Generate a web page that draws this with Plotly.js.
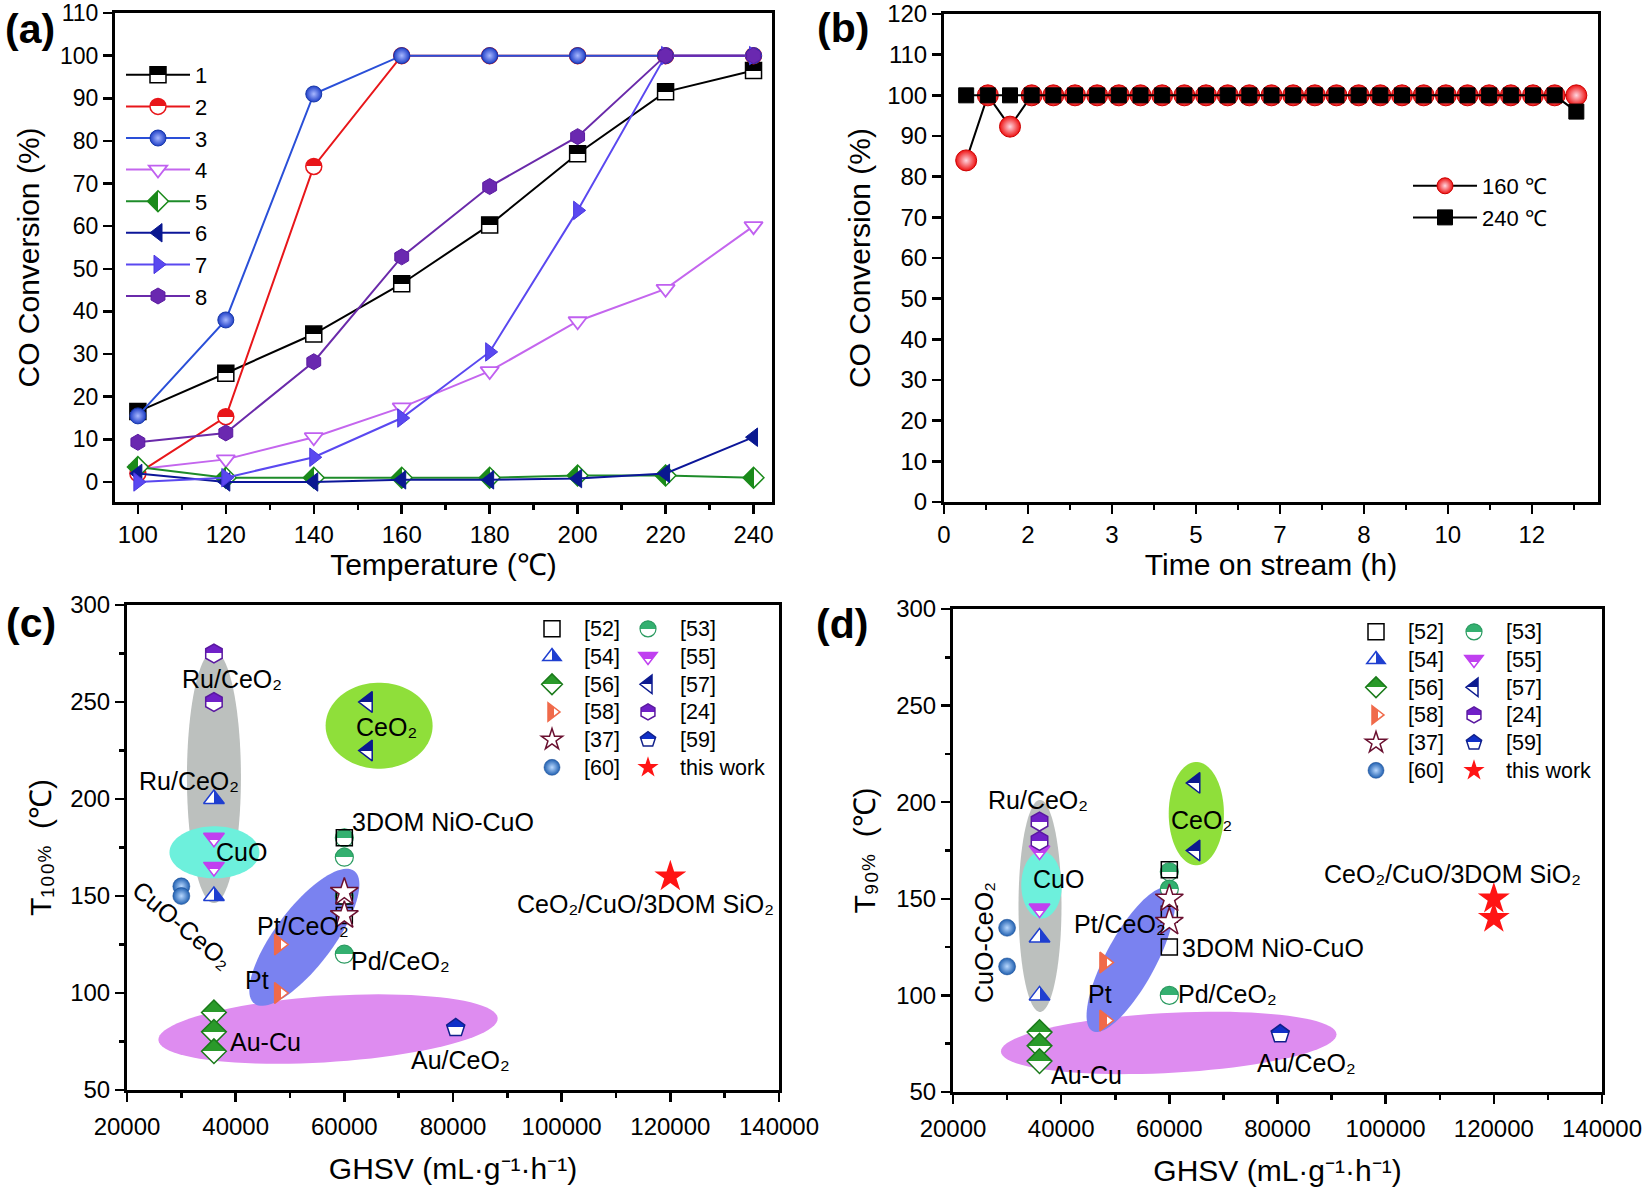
<!DOCTYPE html>
<html>
<head>
<meta charset="utf-8">
<script src="https://cdn.plot.ly/plotly-3.0.1.min.js"></script>
<style>html,body{margin:0;padding:0;background:#fff;}</style>
</head>
<body>
<div id="chart" style="width:1650px;height:1192px;"></div>
<script>
// ---------------- Panel (a): CO conversion vs temperature ----------------
const temperatures = [100, 120, 140, 160, 180, 200, 220, 240];
const sampleNames = ['1', '2', '3', '4', '5', '6', '7', '8'];
const conv1 = [16.5, 25.5, 34.7, 46.5, 60.3, 77.0, 91.5, 96.5];
const conv2 = [2.0, 15.3, 74.0, 100, 100, 100, 100, 100];
const conv3 = [15.5, 38.0, 91.0, 100, 100, 100, 100, 100];
const conv4 = [3.0, 5.3, 10.5, 17.5, 26.0, 37.7, 45.3, 60.0];
const conv5 = [3.5, 1.0, 1.0, 1.0, 1.0, 1.5, 1.5, 1.0];
const conv6 = [2.0, 0.0, 0.0, 0.5, 0.5, 0.8, 2.0, 10.5];
const conv7 = [0.0, 1.0, 5.8, 15.0, 30.5, 63.7, 100, 100];
const conv8 = [9.3, 11.5, 28.2, 52.8, 69.3, 81.0, 100, 100];

// ---------------- Panel (b): stability test ----------------
const streamHours = [0.44, 0.87, 1.31, 1.74, 2.17, 2.60, 3.04, 3.47, 3.90, 4.33, 4.77, 5.20, 5.63, 6.06, 6.50,
  6.93, 7.36, 7.79, 8.23, 8.66, 9.09, 9.52, 9.96, 10.39, 10.82, 11.25, 11.69, 12.12, 12.55];
const conv160 = [84, 100, 92.3, 100, 100, 100, 100, 100, 100, 100, 100, 100, 100, 100, 100,
  100, 100, 100, 100, 100, 100, 100, 100, 100, 100, 100, 100, 100, 100];
const conv240 = [100, 100, 100, 100, 100, 100, 100, 100, 100, 100, 100, 100, 100, 100, 100,
  100, 100, 100, 100, 100, 100, 100, 100, 100, 100, 100, 100, 100, 96];
const streamNames = ['160 ℃', '240 ℃'];
const timeTickLabels = ['0', '2', '3', '5', '7', '8', '10', '12'];

// ---------------- Panels (c), (d): literature comparison ----------------
const refLabels = ['[52]', '[53]', '[54]', '[55]', '[56]', '[57]', '[58]', '[24]', '[37]', '[59]', '[60]', 'this work'];
// T100% vs GHSV
const t100GHSV = [
  [60000, 60000, 60000], [60000, 60000, 60000, 60000], [36000, 36000], [36000, 36000],
  [36000, 36000, 36000], [64300, 64300], [48000, 48000], [36000, 36000],
  [60000, 60000], [80500], [30000, 30000], [120000]];
const t100Temp = [
  [180, 150, 140], [180, 170, 150, 120], [200, 150], [180, 165],
  [90, 80, 70], [250, 225], [125, 100], [275, 250],
  [152, 140], [82], [155, 150], [160]];
// T90% vs GHSV
const t90GHSV = [
  [60000, 60000, 60000], [60000, 60000, 60000], [36000, 36000], [36000, 36000],
  [36000, 36000, 36000], [64800, 64800], [48000, 48000], [36000, 36000],
  [60000, 60000], [80500], [30000, 30000], [120000, 120000]];
const t90Temp = [
  [165, 142, 125], [164, 155, 100], [130, 100], [175, 145],
  [81, 74, 66], [210, 175], [117, 87], [190, 180],
  [150, 138], [80], [135, 115], [150, 140]];

// group labels written on the plots
const cLabelText = ['Ru/CeO₂', 'Ru/CeO₂', 'CuO', 'CeO₂', '3DOM NiO-CuO', 'CuO-CeO₂',
  'Pt/CeO₂', 'Pd/CeO₂', 'Pt', 'Au-Cu', 'Au/CeO₂', 'CeO₂/CuO/3DOM SiO₂'];
const cLabelX = [39400, 31350, 41050, 67800, 78100, 30220, 52300, 70370, 43870, 45500, 81400, 115400];
const cLabelY = [262, 209.5, 172.9, 237, 188.4, 135, 134.5, 116.5, 106.5, 74.8, 65.5, 146];
const cLabelAngle = [0, 0, 0, 0, 0, 40, 0, 0, 0, 0, 0, 0];
const dLabelText = ['Ru/CeO₂', 'CuO', 'CeO₂', 'CuO-CeO₂', 'Pt/CeO₂', '3DOM NiO-CuO',
  'Pt', 'Pd/CeO₂', 'Au-Cu', 'Au/CeO₂', 'CeO₂/CuO/3DOM SiO₂'];
const dLabelX = [35730, 39440, 65890, 25610, 50860, 79170, 47100, 70750, 44700, 85430, 112400];
const dLabelY = [201, 160.2, 191, 127.3, 137, 124.6, 100.6, 100.5, 59, 65, 163];
const dLabelAngle = [0, 0, 0, -90, 0, 0, 0, 0, 0, 0, 0];

// ---------------- styles ----------------
const FONT = 'Liberation Sans, Arial, sans-serif';
const W = 1650, H = 1192;
const dom = {
  a: {x: [115 / W, 772 / W], y: [1 - 502 / H, 1 - 13 / H]},
  b: {x: [944 / W, 1598 / W], y: [1 - 502 / H, 1 - 14 / H]},
  c: {x: [127 / W, 779 / W], y: [1 - 1090 / H, 1 - 605 / H]},
  d: {x: [953 / W, 1602 / W], y: [1 - 1092 / H, 1 - 609 / H]}
};
const ranges = {
  ax: [94.8, 244.2], ay: [-4.7, 110],
  bx: [0, 12.98], by: [0, 120],
  cx: [20000, 140000], cy: [50, 300]
};

const aStyles = [
  {line: '#000000', marker: {symbol: 'square', color: '#000000', gradient: {type: 'vertical', color: '#ffffff'}, line: {color: '#000', width: 1.5}}},
  {line: '#e8161a', marker: {symbol: 'circle', color: '#e8161a', gradient: {type: 'vertical', color: '#ffffff'}, line: {color: '#e8161a', width: 1.5}}},
  {line: '#2a4fd8', marker: {symbol: 'circle', color: '#2040c8', gradient: {type: 'radial', color: '#a8b8ff'}, line: {color: '#1838a8', width: 1}}},
  {line: '#c466ee', marker: {symbol: 'triangle-down', color: '#ffffff', line: {color: '#c060f0', width: 1.8}}},
  {line: '#1e8c2a', marker: {symbol: 'diamond', color: '#1a8a1a', gradient: {type: 'horizontal', color: '#ffffff'}, line: {color: '#1a8a1a', width: 1.5}}},
  {line: '#0c1699', marker: {symbol: 'triangle-left', color: '#0a1890', line: {color: '#0a1890', width: 1}}},
  {line: '#5a48f0', marker: {symbol: 'triangle-right', color: '#5a48f0', line: {color: '#4a38e0', width: 1}}},
  {line: '#6a2aaa', marker: {symbol: 'hexagon', color: '#6a28b0', line: {color: '#5a1aa0', width: 1}}}
];

const refStyles = [
  {symbol: 'square-open', color: '#000000', line: {color: '#000000', width: 1.5}, size: 16},
  {symbol: 'circle', color: '#34b070', gradient: {type: 'vertical', color: '#ffffff'}, line: {color: '#2a9a60', width: 1.2}, size: 18},
  {symbol: 'triangle-up', color: '#ffffff', gradient: {type: 'horizontal', color: '#1f3fd0'}, line: {color: '#1f3fd0', width: 1.5}, size: 18},
  {symbol: 'triangle-down', color: '#c040f0', gradient: {type: 'vertical', color: '#ffffff'}, line: {color: '#c040f0', width: 1.5}, size: 18},
  {symbol: 'diamond', color: '#2a9a2a', gradient: {type: 'vertical', color: '#ffffff'}, line: {color: '#1a7a1a', width: 1.5}, size: 19},
  {symbol: 'triangle-left', color: '#0c1a90', gradient: {type: 'vertical', color: '#ffffff'}, line: {color: '#0c1a90', width: 1.5}, size: 18},
  {symbol: 'triangle-right', color: '#f06a4a', gradient: {type: 'horizontal', color: '#ffffff'}, line: {color: '#f06a4a', width: 1.5}, size: 18},
  {symbol: 'hexagon', color: '#7020c8', gradient: {type: 'vertical', color: '#ffffff'}, line: {color: '#5a18a0', width: 1.5}, size: 19},
  {symbol: 'star', color: '#ffffff', line: {color: '#6a1030', width: 1.5}, size: 21},
  {symbol: 'pentagon', color: '#1030c8', gradient: {type: 'vertical', color: '#ffffff'}, line: {color: '#10208a', width: 1.5}, size: 19},
  {symbol: 'circle', color: '#1f5fb0', gradient: {type: 'radial', color: '#b8d8ff'}, line: {color: '#184a90', width: 0.5}, size: 17},
  {symbol: 'star', color: '#ff1414', line: {color: '#ff1414', width: 0}, size: 24}
];

// ellipses: centre in data units, semi-axes a (along angle) and b in pixels
const cEllipses = [
  {cx: 57000, cy: 81.4, a: 170, b: 33, ang: 3.7, color: '#de8cf0'},
  {cx: 52640, cy: 128.7, a: 83, b: 29, ang: 53, color: '#7a82f0'},
  {cx: 36000, cy: 211.3, a: 27, b: 126, ang: 0, color: '#bcc0be'},
  {cx: 36100, cy: 172.5, a: 45, b: 26, ang: 0, color: '#6df0dc'},
  {cx: 66400, cy: 237.8, a: 53.5, b: 43, ang: 0, color: '#8fdf3a'}
];
const dEllipses = [
  {cx: 59886, cy: 75.4, a: 168, b: 30, ang: 3.0, color: '#de8cf0'},
  {cx: 52880, cy: 118.5, a: 81, b: 25, ang: 61.7, color: '#7a82f0'},
  {cx: 36087, cy: 146.3, a: 21.5, b: 106, ang: 0, color: '#bcc0be'},
  {cx: 36380, cy: 157.2, a: 20.3, b: 33.6, ang: 0, color: '#6df0dc'},
  {cx: 64990, cy: 194.1, a: 27.6, b: 51.6, ang: 0, color: '#8fdf3a'}
];

// ---------------- traces ----------------
const traces = [];
const aSeries = [conv1, conv2, conv3, conv4, conv5, conv6, conv7, conv8];
aSeries.forEach((ys, i) => {
  const st = aStyles[i];
  traces.push({
    type: 'scatter', mode: 'lines+markers', x: temperatures, y: ys, name: sampleNames[i],
    xaxis: 'x', yaxis: 'y', legend: 'legend', cliponaxis: false,
    line: {color: st.line, width: 2},
    marker: Object.assign({size: 16}, st.marker)
  });
});

traces.push({
  type: 'scatter', mode: 'lines+markers', x: streamHours, y: conv160, name: streamNames[0],
  xaxis: 'x2', yaxis: 'y2', legend: 'legend2', cliponaxis: false,
  line: {color: '#000', width: 2},
  marker: {symbol: 'circle', size: 21, color: '#ee1010', gradient: {type: 'radial', color: '#ffd6e0'}, line: {color: '#cc0000', width: 1}}
});
traces.push({
  type: 'scatter', mode: 'lines+markers', x: streamHours, y: conv240, name: streamNames[1],
  xaxis: 'x2', yaxis: 'y2', legend: 'legend2', cliponaxis: false,
  line: {color: '#000', width: 2},
  marker: {symbol: 'square', size: 15, color: '#000', line: {color: '#000', width: 1}}
});

const drawOrder = [1, 0, 3, 2, 4, 5, 6, 7, 8, 9, 10, 11];
function addRefTraces(X, Y, xa, ya, legLeft, legRight) {
  drawOrder.forEach(i => {
    const st = refStyles[i];
    const mk = {symbol: st.symbol, size: st.size, color: st.color, line: st.line};
    if (st.gradient) mk.gradient = st.gradient;
    traces.push({
      type: 'scatter', mode: 'markers', x: X[i], y: Y[i],
      name: '<span style="font-size:21.5px">' + refLabels[i] + '</span>',
      xaxis: xa, yaxis: ya, legend: (i % 2 === 0) ? legLeft : legRight, cliponaxis: false,
      marker: mk
    });
  });
}
addRefTraces(t100GHSV, t100Temp, 'x3', 'y3', 'legend3', 'legend4');
addRefTraces(t90GHSV, t90Temp, 'x4', 'y4', 'legend5', 'legend6');

// ---------------- shapes ----------------
function ellipsePath(s, xr, yr, wPx, hPx) {
  const kx = (xr[1] - xr[0]) / wPx, ky = (yr[1] - yr[0]) / hPx;
  const phi = s.ang * Math.PI / 180;
  let d = '';
  for (let i = 0; i <= 90; i++) {
    const t = i / 90 * 2 * Math.PI;
    const dx = s.a * Math.cos(t) * Math.cos(phi) - s.b * Math.sin(t) * Math.sin(phi);
    const dy = s.a * Math.cos(t) * Math.sin(phi) + s.b * Math.sin(t) * Math.cos(phi);
    d += (i ? 'L' : 'M') + (s.cx + dx * kx).toFixed(2) + ',' + (s.cy + dy * ky).toFixed(4);
  }
  return d + 'Z';
}
const shapes = [];
function addEllipses(list, xref, yref, d) {
  const wPx = (d.x[1] - d.x[0]) * W, hPx = (d.y[1] - d.y[0]) * H;
  list.forEach(s => shapes.push({
    type: 'path', xref: xref, yref: yref, layer: 'below',
    path: ellipsePath(s, ranges.cx, ranges.cy, wPx, hPx),
    fillcolor: s.color, line: {width: 0}
  }));
}
addEllipses(cEllipses, 'x3', 'y3', dom.c);
addEllipses(dEllipses, 'x4', 'y4', dom.d);

// ---------------- annotations ----------------
const annotations = [];
const panelLabels = [['(a)', 30, 29], ['(b)', 843, 28], ['(c)', 31, 623], ['(d)', 842, 624]];
panelLabels.forEach(p => annotations.push({
  text: '<b>' + p[0] + '</b>', xref: 'paper', yref: 'paper', x: p[1] / W, y: 1 - p[2] / H,
  xanchor: 'center', yanchor: 'middle', showarrow: false,
  font: {family: FONT, size: 41, color: '#000'}
}));
function addLabels(texts, xs, ys, angs, xref, yref) {
  texts.forEach((t, i) => annotations.push({
    text: t, x: xs[i], y: ys[i], xref: xref, yref: yref, showarrow: false,
    xanchor: 'center', yanchor: 'middle', textangle: angs[i],
    font: {family: FONT, size: 25, color: '#000'}
  }));
}
addLabels(cLabelText, cLabelX, cLabelY, cLabelAngle, 'x3', 'y3');
addLabels(dLabelText, dLabelX, dLabelY, dLabelAngle, 'x4', 'y4');

// ---------------- layout ----------------
function axis(extra) {
  return Object.assign({
    showline: true, linecolor: '#000', linewidth: 3, mirror: true,
    ticks: 'outside', ticklen: 9, tickwidth: 2.5, tickcolor: '#000',
    showgrid: false, zeroline: false, automargin: false, fixedrange: true,
    tickfont: {family: FONT, size: 24, color: '#000'}
  }, extra);
}
function minor(dt) {
  return {ticks: 'outside', ticklen: 5, tickwidth: 2.5, tickcolor: '#000', dtick: dt, tick0: 0, showgrid: false};
}
function title(t, standoff) {
  return {text: t, standoff: standoff, font: {family: FONT, size: 30, color: '#000'}};
}
function legendBox(x, y, size, iw) {
  return {
    x: x / W, y: 1 - y / H, xref: 'paper', yref: 'paper', xanchor: 'left', yanchor: 'top',
    bgcolor: 'rgba(0,0,0,0)', borderwidth: 0, itemwidth: iw, tracegroupgap: 0,
    font: {family: FONT, size: size, color: '#000'}
  };
}

const timeTickVals = timeTickLabels.map((_, i) => i * 5 / 3);

const layout = {
  width: W, height: H,
  margin: {l: 0, r: 0, t: 0, b: 0},
  paper_bgcolor: '#fff', plot_bgcolor: '#fff',
  showlegend: true,
  font: {family: FONT, color: '#000'},
  xaxis: axis({domain: dom.a.x, anchor: 'y', range: ranges.ax, tick0: 100, dtick: 20, minor: minor(10),
    title: title('Temperature (℃)', 7)}),
  yaxis: axis({domain: dom.a.y, anchor: 'x', range: ranges.ay, tick0: 0, dtick: 10,
    tickfont: {family: FONT, size: 23, color: '#000'},
    title: title('CO Conversion (%)', 12)}),
  xaxis2: axis({domain: dom.b.x, anchor: 'y2', range: ranges.bx, tickmode: 'array', tickvals: timeTickVals,
    ticktext: timeTickLabels, minor: minor(5 / 6), title: title('Time on stream (h)', 7)}),
  yaxis2: axis({domain: dom.b.y, anchor: 'x2', range: ranges.by, tick0: 0, dtick: 10,
    title: title('CO Conversion (%)', 8)}),
  xaxis3: axis({domain: dom.c.x, anchor: 'y3', range: ranges.cx, tick0: 20000, dtick: 20000, tickformat: 'd',
    ticklabelstandoff: 4, minor: minor(10000), title: title('GHSV (mL·g⁻¹·h⁻¹)', 20)}),
  yaxis3: axis({domain: dom.c.y, anchor: 'x3', range: ranges.cy, tick0: 50, dtick: 50, minor: minor(25),
    title: title('T₁₀₀<span style="font-size:19px">%</span>  (℃)', 10)}),
  xaxis4: axis({domain: dom.d.x, anchor: 'y4', range: ranges.cx, tick0: 20000, dtick: 20000, tickformat: 'd',
    ticklabelstandoff: 4, minor: minor(10000), title: title('GHSV (mL·g⁻¹·h⁻¹)', 20)}),
  yaxis4: axis({domain: dom.d.y, anchor: 'x4', range: ranges.cy, tick0: 50, dtick: 50, minor: minor(25),
    title: title('T₉₀<span style="font-size:19px">%</span>  (℃)', 12)}),
  legend: legendBox(121, 54, 22, 64),
  legend2: legendBox(1408, 165, 22, 64),
  legend3: legendBox(520, 610, 19, 54),
  legend4: legendBox(616, 610, 19, 54),
  legend5: legendBox(1344, 613, 19, 54),
  legend6: legendBox(1442, 613, 19, 54),
  shapes: shapes,
  annotations: annotations
};

// half-filled symbols: turn the two-colour linear marker gradients into a sharp split
function sharpenGradients(gd) {
  gd.querySelectorAll('linearGradient').forEach(g => {
    const stops = g.querySelectorAll('stop');
    if (stops.length === 2) {
      stops[0].setAttribute('offset', '50%');
      stops[1].setAttribute('offset', '50%');
    }
  });
}

Plotly.newPlot('chart', traces, layout, {displayModeBar: false, staticPlot: true}).then(sharpenGradients);
</script>
</body>
</html>
